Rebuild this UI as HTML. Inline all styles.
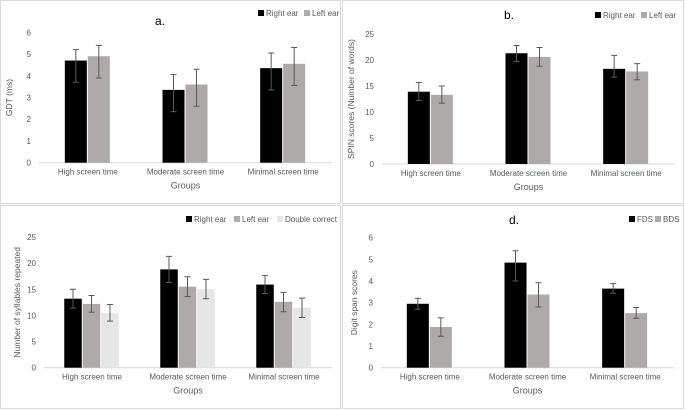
<!DOCTYPE html>
<html><head><meta charset="utf-8"><style>
html,body{margin:0;padding:0;background:#fff;}
svg{display:block;font-family:"Liberation Sans",Arial,sans-serif;}
</style></head><body>
<svg id="fig" width="685" height="411" viewBox="0 0 685 411" xmlns="http://www.w3.org/2000/svg"></svg>
<script>
const groups = ["High screen time","Moderate screen time","Minimal screen time"];
// panel a
const aRight = [4.7, 3.35, 4.35];
const aRightErr = [[3.7,5.2],[2.35,4.05],[3.35,5.05]];
const aLeft = [4.9, 3.6, 4.55];
const aLeftErr = [[3.9,5.4],[2.6,4.3],[3.55,5.3]];
const aTicks = [0,1,2,3,4,5,6];
// panel b
const bRight = [13.9, 21.3, 18.3];
const bRightErr = [[12.2,15.7],[19.7,22.8],[16.7,20.9]];
const bLeft = [13.3, 20.6, 17.8];
const bLeftErr = [[11.7,15.0],[18.8,22.4],[16.2,19.3]];
const bTicks = [0,5,10,15,20,25];
// panel c
const cRight = [13.2, 18.8, 15.9];
const cRightErr = [[11.4,15.0],[16.3,21.3],[14.2,17.6]];
const cLeft = [12.2, 15.5, 12.6];
const cLeftErr = [[10.6,13.8],[13.6,17.4],[10.7,14.4]];
const cDouble = [10.5, 15.0, 11.5];
const cDoubleErr = [[8.9,12.1],[13.2,16.9],[9.6,13.3]];
const cTicks = [0,5,10,15,20,25];
// panel d
const dFDS = [2.95, 4.85, 3.65];
const dFDSErr = [[2.7,3.2],[4.0,5.4],[3.43,3.88]];
const dBDS = [1.88, 3.38, 2.52];
const dBDSErr = [[1.45,2.3],[2.8,3.92],[2.28,2.78]];
const dTicks = [0,1,2,3,4,5,6];

const NS="http://www.w3.org/2000/svg";
const svg=document.getElementById('fig');
function mk(tag,attrs,parent){const e=document.createElementNS(NS,tag);for(const k in attrs)e.setAttribute(k,attrs[k]);(parent||svg).appendChild(e);return e;}
function txt(x,y,s,size,anchor,parent,fill){const t=mk('text',{x:x,y:y,'font-size':size,'text-anchor':anchor||'middle',fill:fill||'#595959'},parent);t.textContent=s;return t;}

function panel(cfg){
  const g=mk('g',{});
  
  
  const border=mk('rect',{x:cfg.bx,y:cfg.by,width:cfg.pw,height:cfg.ph,fill:'#fff',stroke:'#d9d9d9','stroke-width':1},g);
  
  
  const max=cfg.ticks[cfg.ticks.length-1];
  const ys=v=>cfg.y0-(v/max)*(cfg.y0-cfg.yTop);
  const gw=(cfg.x1-cfg.x0)/groups.length;
  const cx=i=>cfg.x0+gw*(i+0.5);
  cfg.ticks.forEach(t=>{
    const l=txt(cfg.x0-8,ys(t)+3,String(t),8,'end',g);
    
    
  });
  const ax=mk('line',{x1:cfg.x0,x2:cfg.x1,y1:cfg.y0,y2:cfg.y0,stroke:'#d9d9d9','stroke-width':1},g);
  
  
  const n=cfg.series.length;
  cfg.series.forEach((s,si)=>{
    s.vals.forEach((v,i)=>{
      const x=cx(i)-n*cfg.bw/2+si*cfg.bw;
      const r=mk('rect',{x:x,y:ys(v),width:cfg.bw-1,height:cfg.y0-ys(v),fill:s.color},g);
      
      
      const e=s.err[i];const ex=x+(cfg.bw-1)/2;
      const eb=mk('path',{d:`M${ex},${ys(e[0])}V${ys(e[1])}M${ex-3},${ys(e[0])}H${ex+3}M${ex-3},${ys(e[1])}H${ex+3}`,stroke:'#595959','stroke-width':1,fill:'none'},g);
      
      
    });
  });
  groups.forEach((gname,i)=>{
    const l=txt(cx(i),cfg.y0+12,gname,8,'middle',g);
    
    
  });
  const xt=txt((cfg.x0+cfg.x1)/2,cfg.y0+26,'Groups',9,'middle',g);
  
  
  const yt=txt(0,0,cfg.ylabel,8.5,'middle',g);
  yt.setAttribute('transform',`translate(${cfg.ylx},${(cfg.y0+cfg.yTop)/2}) rotate(-90)`);
  
  
  if(cfg.title){
    const tt=txt(cfg.tx,cfg.ty,cfg.title,12,'middle',g,'#000');
    
    
  }
  cfg.legend.forEach(le=>{
    const sq=mk('rect',{x:le.x,y:cfg.ly-6,width:6,height:6,fill:le.color},g);
    
    
    const t=txt(le.x+8,cfg.ly,le.label,8,'start',g);
    
    
  });
}
const BLK='#000',GRY='#aeaaaa',LGT='#e7e6e6';
panel({name:'panel-a-gdt',bx:0.5,by:0.5,pw:340,ph:203,x0:39,x1:332,y0:162.7,yTop:32.3,ticks:aTicks,bw:23,ylx:12,ylabel:'GDT (ms)',title:'a.',tx:160,ty:25,ly:16,
  series:[{key:'right-ear',vals:aRight,err:aRightErr,color:BLK},{key:'left-ear',vals:aLeft,err:aLeftErr,color:GRY}],
  legend:[{x:258,color:BLK,label:'Right ear'},{x:304,color:GRY,label:'Left ear'}]});
panel({name:'panel-b-spin',bx:342.5,by:0.5,pw:341,ph:203,x0:382,x1:675,y0:164,yTop:34,ticks:bTicks,bw:23,ylx:354,ylabel:'SPIN scores (Number of words)',title:'b.',tx:509,ty:19,ly:18,
  series:[{key:'right-ear',vals:bRight,err:bRightErr,color:BLK},{key:'left-ear',vals:bLeft,err:bLeftErr,color:GRY}],
  legend:[{x:595,color:BLK,label:'Right ear'},{x:641,color:GRY,label:'Left ear'}]});
panel({name:'panel-c-dichotic',bx:0.5,by:205.5,pw:340,ph:203,x0:44,x1:332,y0:367.7,yTop:237,ticks:cTicks,bw:18.5,ylx:20,ylabel:'Number of syllables repeated',title:null,ly:222,
  series:[{key:'right-ear',vals:cRight,err:cRightErr,color:BLK},{key:'left-ear',vals:cLeft,err:cLeftErr,color:GRY},{key:'double-correct',vals:cDouble,err:cDoubleErr,color:LGT}],
  legend:[{x:186,color:BLK,label:'Right ear'},{x:234,color:GRY,label:'Left ear'},{x:277,color:LGT,label:'Double correct'}]});
panel({name:'panel-d-digit-span',bx:342.5,by:205.5,pw:341,ph:203,x0:381,x1:674,y0:367.7,yTop:237.7,ticks:dTicks,bw:23,ylx:357,ylabel:'Digit span scores',title:'d.',tx:514,ty:224,ly:222,
  series:[{key:'fds',vals:dFDS,err:dFDSErr,color:BLK},{key:'bds',vals:dBDS,err:dBDSErr,color:GRY}],
  legend:[{x:629,color:BLK,label:'FDS'},{x:655,color:GRY,label:'BDS'}]});
</script>
</body></html>
